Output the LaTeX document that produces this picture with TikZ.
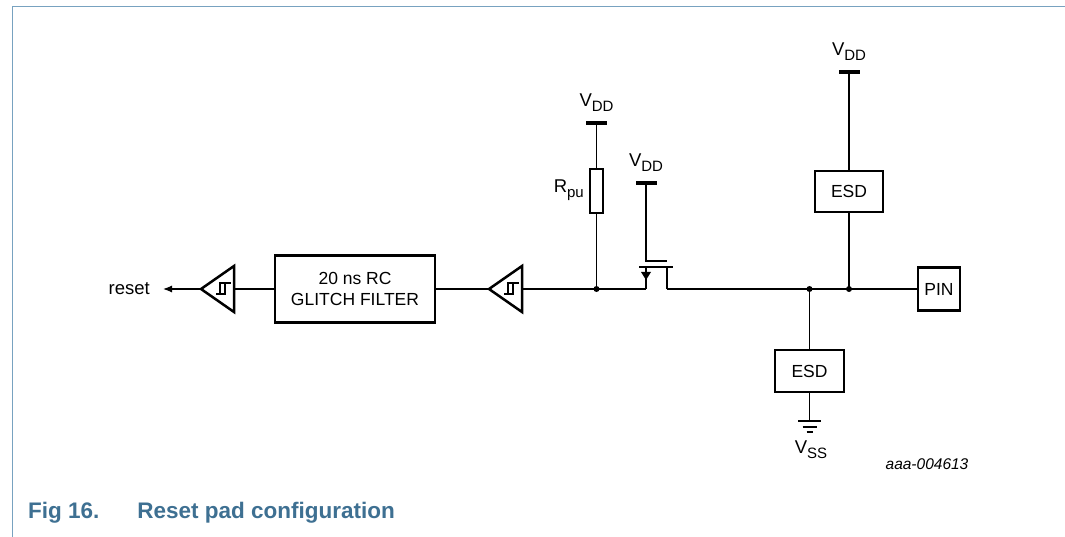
\documentclass[tikz,border=0pt]{standalone}
\usepackage{fontspec}
\setmainfont{Liberation Sans}
\usetikzlibrary{arrows.meta}
\usetikzlibrary{positioning}

\definecolor{framecol}{RGB}{120,162,192}
\definecolor{capcol}{RGB}{62,112,146}
\newcommand{\vsub}[1]{\raisebox{-0.28em}{\fontsize{15}{15}\selectfont #1}}

\tikzset{
  schmitt/.pic={
    \draw[line width=2.5pt,line join=miter] (0,0) -- (33,-23) -- (33,23) -- cycle;
    \draw[line width=1.1pt] (15,5) -- (24,5) -- (24,-6) (19,5) -- (19,-6) -- (30,-6);
    \coordinate (-tip) at (0,0);
    \coordinate (-base) at (33,0);
  }
}

\begin{document}
\begin{tikzpicture}[x=1pt,y=-1pt,>/.tip={Latex[length=9pt,width=7pt]},
  wire/.style={line width=1.2pt},
  blk/.style={draw,line width=2.6pt,inner sep=0pt,align=center,font=\fontsize{17.5}{21}\selectfont},
  rail/.style={fill,inner sep=0pt,minimum width=21pt,minimum height=4pt},
  lbl/.style={inner sep=0pt,font=\fontsize{18.5}{18.5}\selectfont}]
	\useasboundingbox (0,0) rectangle (1065,537);
	\draw[framecol,line width=1.6pt] (12.5,537) -- (12.5,6.5) -- (1065,6.5);

	% boxes
	\node[blk,minimum width=160pt,minimum height=67pt] (filter) at (355,289) {20 ns RC\\GLITCH FILTER};
	\node[blk,minimum width=68pt,minimum height=41pt] (esdtop) at (849,191.5) {ESD};
	\node[blk,minimum width=69pt,minimum height=42pt] (esdbot) at (809.5,371) {ESD};
	\node[blk,minimum width=42pt,minimum height=43pt] (pin) at (939,289) {PIN};
	\node[draw,line width=1.2pt,minimum width=13pt,minimum height=44pt,inner sep=0pt] (rpu) at (596.5,191) {};
	\node[lbl,anchor=east] (rpulbl) at (584,190) {R\vsub{pu}};

	% supply rails
	\node[rail] (vddr) at (596.5,123) {};
	\node[lbl,above=9pt of vddr] (vddrlbl) {V\vsub{DD}};
	\node[rail] (vddm) at (646,183) {};
	\node[lbl,above=9pt of vddm] (vddmlbl) {V\vsub{DD}};
	\node[rail] (vdde) at (849,72) {};
	\node[lbl,above=9pt of vdde] (vddelbl) {V\vsub{DD}};

	% buffers
	\pic (b1) at (201,289) {schmitt};
	\pic (b2) at (489,289) {schmitt};
	\node[lbl,anchor=east,inner xsep=13pt] (reset) at (163,289) {reset};

	% transistor
	\coordinate (src) at (646,289);
	\coordinate (drn) at (667,289);
	\coordinate (srctop) at (646,267);
	\coordinate (drntop) at (667,267);
	\coordinate (barl) at (639,267);
	\coordinate (barr) at (673,267);
	\coordinate (gate1) at (646,261);
	\coordinate (gate2) at (667,261);
	\draw[line width=2.6pt] (barl) -- (barr);
	\draw[wire] (src) -- (srctop);
	\draw[wire] (drn) -- (drntop);
	\fill (srctop) ++(-5,5) -- ++(10,0) -- ++(-5,8) -- cycle;
	\draw[wire] (vddm) -- (gate1) -- (gate2);

	% junctions
	\coordinate (jr) at (596.5,289);
	\coordinate (je1) at (809.5,289);
	\coordinate (je2) at (849,289);
	\coordinate (gnd) at (809.5,421);

	\draw[->,wire] (b1-tip) -- (reset);
	\draw[wire] (filter) -- (b1-base);
	\draw[wire] (b2-tip) -- (filter);
	\draw[wire] (b2-base) -- (src);
	\draw[wire] (vddr) -- (rpu) -- (jr);
	\draw[wire] (drn) -- (pin);
	\draw[wire] (vdde) -- (esdtop) -- (je2);
	\draw[wire] (je1) -- (esdbot) -- (gnd);
	\draw[wire] (gnd) ++(-11.5,0) -- ++(23,0) ++(-18.5,6) -- ++(14,0) ++(-10,5) -- ++(6,0);
	\foreach \j in {jr,je1,je2} \fill (\j) circle (3pt);

	% texts
	\node[lbl] (vss) at (811,450) {V\vsub{SS}};
	\node[font=\fontsize{15.5}{15.5}\selectfont\itshape] (id) at (927,464) {aaa-004613};
	\node[capcol,font=\fontsize{22.5}{22.5}\selectfont\bfseries,anchor=base west,inner sep=0pt] (fig) at (28,518) {Fig 16.};
	\node[capcol,font=\fontsize{22.5}{22.5}\selectfont\bfseries,anchor=base east,inner sep=0pt] (title) at (395,518) {Reset pad configuration};
\end{tikzpicture}
\end{document}
